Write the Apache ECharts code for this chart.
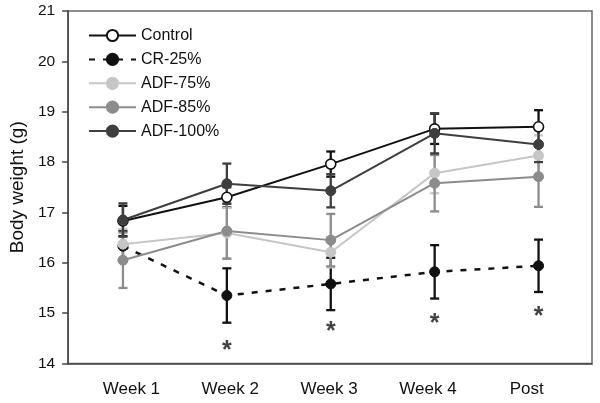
<!DOCTYPE html>
<html>
<head>
<meta charset="utf-8">
<script src="https://cdn.jsdelivr.net/npm/echarts@6/dist/echarts.min.js"></script>
<style>html,body{margin:0;padding:0;background:#fff}#c{width:600px;height:403px}</style>
</head>
<body>
<div id="c"></div>
<script>
// ---- data ----
var categories = ['Week 1', 'Week 2', 'Week 3', 'Week 4', 'Post'];
var seriesNames = ['Control', 'CR-25%', 'ADF-75%', 'ADF-85%', 'ADF-100%'];
var controlMean = [16.83, 17.30, 17.96, 18.66, 18.70];
var controlErr  = [0.30, 0.20, 0.25, 0.30, 0.33];
var crMean      = [16.33, 15.35, 15.58, 15.82, 15.94];
var crErr       = [0.30, 0.54, 0.52, 0.53, 0.52];
var adf75Mean   = [16.37, 16.59, 16.21, 17.78, 18.13];
var adf75Err    = [0.30, 0.50, 0.30, 0.40, 0.40];
var adf85Mean   = [16.05, 16.63, 16.45, 17.58, 17.71];
var adf85Err    = [0.55, 0.55, 0.52, 0.56, 0.60];
var adf100Mean  = [16.85, 17.57, 17.43, 18.57, 18.35];
var adf100Err   = [0.33, 0.40, 0.33, 0.40, 0.35];
var sigMarks    = [null, 14.25, 14.63, 14.79, 14.93]; // "*" significance markers (CR-25% vs Control)
var yTicks = [14, 15, 16, 17, 18, 19, 20, 21];

var FONT = "'Liberation Sans', Arial, sans-serif";
var colors = {
  'Control': '#111111',
  'CR-25%': '#111111',
  'ADF-75%': '#c6c6c6',
  'ADF-85%': '#8c8c8c',
  'ADF-100%': '#3e3e3e'
};

function errRender(color) {
  return function (params, api) {
    var x = api.value(0), m = api.value(1), e = api.value(2);
    var top = api.coord([x, m + e]), bot = api.coord([x, m - e]);
    var hw = 4.5;
    var st = { stroke: color, lineWidth: 2.3 };
    return {
      type: 'group', children: [
        { type: 'line', shape: { x1: top[0], y1: top[1], x2: bot[0], y2: bot[1] }, style: st },
        { type: 'line', shape: { x1: top[0] - hw, y1: top[1], x2: top[0] + hw, y2: top[1] }, style: st },
        { type: 'line', shape: { x1: bot[0] - hw, y1: bot[1], x2: bot[0] + hw, y2: bot[1] }, style: st }
      ]
    };
  };
}

function errSeries(name, mean, err) {
  return {
    type: 'custom', name: name + ' SE', xAxisIndex: 1, yAxisIndex: 1,
    renderItem: errRender(colors[name]),
    encode: { x: 0, y: 1 },
    data: categories.map(function (c, i) { return [i, mean[i], err[i]]; }),
    silent: true
  };
}

function lineSeries(name, mean, opts) {
  var s = {
    type: 'line', name: name, xAxisIndex: 1, yAxisIndex: 1,
    data: mean.slice(),
    symbol: 'circle', symbolSize: 10,
    lineStyle: { color: colors[name], width: 2 },
    itemStyle: { color: colors[name], borderColor: colors[name], borderWidth: 1 },
    emphasis: { disabled: true }
  };
  if (opts) { for (var k in opts) s[k] = opts[k]; }
  return s;
}

var series = [
  errSeries('Control', controlMean, controlErr),
  lineSeries('Control', controlMean, {
    itemStyle: { color: '#ffffff', borderColor: '#111111', borderWidth: 1.6 }
  }),
  errSeries('CR-25%', crMean, crErr),
  lineSeries('CR-25%', crMean, {
    lineStyle: { color: '#111111', width: 2.5, type: [6, 8] }
  }),
  errSeries('ADF-75%', adf75Mean, adf75Err),
  lineSeries('ADF-75%', adf75Mean),
  errSeries('ADF-85%', adf85Mean, adf85Err),
  lineSeries('ADF-85%', adf85Mean),
  errSeries('ADF-100%', adf100Mean, adf100Err),
  lineSeries('ADF-100%', adf100Mean),
  {
    type: 'scatter', name: 'sig', xAxisIndex: 1, yAxisIndex: 1,
    symbolSize: 1, itemStyle: { color: 'rgba(0,0,0,0)' },
    data: sigMarks,
    label: {
      show: true, position: 'inside', formatter: '*',
      fontSize: 25, fontWeight: 'bold', color: '#111', fontFamily: FONT
    },
    silent: true
  }
];

var chart = echarts.init(document.getElementById('c'), null, { renderer: 'canvas' });
chart.setOption({
  animation: false,
  backgroundColor: '#ffffff',
  textStyle: { fontFamily: FONT },
  legend: {
    data: seriesNames,
    orient: 'vertical',
    left: 88, top: 27.5,
    itemWidth: 47, itemHeight: 14, itemGap: 7.9,
    padding: 0,
    selectedMode: false,
    textStyle: { fontSize: 16, color: '#111', fontFamily: FONT, lineHeight: 16 }
  },
  grid: [
    { left: 66, top: 11, width: 526, height: 352.5, show: true, borderColor: '#6a6a6a', borderWidth: 1.5, backgroundColor: 'transparent', containLabel: false },
    { left: 71, top: 11, width: 519.5, height: 352.5, containLabel: false }
  ],
  xAxis: [
    {
      type: 'value', gridIndex: 0, min: 0.36, max: 5.66,
      axisLine: { show: true, lineStyle: { color: '#444', width: 1.5 } },
      axisTick: { show: false },
      splitLine: { show: false },
      axisLabel: {
        customValues: [1, 2, 3, 4, 5],
        formatter: function (v) { return categories[Math.round(v) - 1] || ''; },
        fontSize: 17, color: '#111', margin: 17, fontFamily: FONT
      }
    },
    {
      type: 'category', gridIndex: 1, data: categories, boundaryGap: true,
      show: false
    }
  ],
  yAxis: [
    {
      type: 'value', gridIndex: 0, min: yTicks[0], max: yTicks[yTicks.length - 1], interval: 1,
      name: 'Body weight (g)', nameLocation: 'middle', nameGap: 40, nameRotate: 90,
      nameTextStyle: { fontSize: 19, color: '#111', fontFamily: FONT },
      axisLine: { show: true, lineStyle: { color: '#444', width: 1.5 } },
      axisTick: { show: true, length: 6, lineStyle: { color: '#444', width: 1.5 } },
      splitLine: { show: false },
      axisLabel: { fontSize: 15.5, color: '#111', margin: 13, fontFamily: FONT }
    },
    {
      type: 'value', gridIndex: 1, min: yTicks[0], max: yTicks[yTicks.length - 1], interval: 1,
      show: false, splitLine: { show: false }
    }
  ],
  series: series
});
</script>
</body>
</html>
